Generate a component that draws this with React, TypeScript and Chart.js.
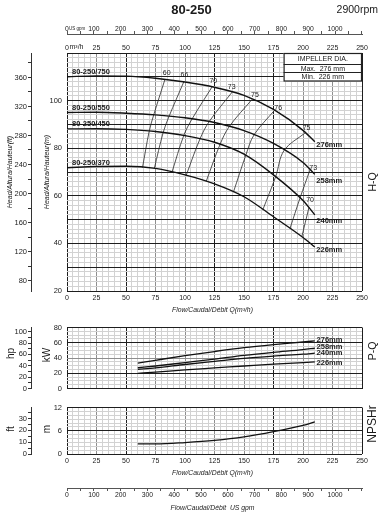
import React, { useEffect, useRef } from 'react';
import { Chart, registerables } from 'chart.js';

Chart.register(...registerables);

const SANS = '"Liberation Sans", Arial, sans-serif';
const INK = '#1a1a1a';

// ---------- tick labels ----------
const flowTicks = [0, 25, 50, 75, 100, 125, 150, 175, 200, 225, 250];
const gpmTicks = [0, 100, 200, 300, 400, 500, 600, 700, 800, 900, 1000];
const headTicks = [20, 40, 60, 80, 100];
const headFtTicks = [80, 120, 160, 200, 240, 280, 320, 360];
const powerTicks = [0, 20, 40, 60, 80];
const hpTicks = [0, 20, 40, 60, 80, 100];
const npshTicks = [0, 6, 12];
const npshFtTicks = [0, 10, 20, 30];

// ---------- H-Q curves ----------
const models = ['80-250/750', '80-250/550', '80-250/450', '80-250/370'];
const diameters = ['276mm', '258mm', '240mm', '226mm'];
const qHead = [0, 25, 50, 75, 100, 125, 150, 175, 200, 210];
const head276 = [110, 110.4, 110.3, 109.4, 107.8, 105.6, 102.2, 96.3, 87.5, 82.7];
const head258 = [95, 95.1, 94.7, 94, 92.8, 90.8, 87.4, 82, 74, 69];
const head240 = [88.1, 88.2, 87.9, 87, 85.3, 82.5, 77.5, 68.8, 58, 52];
const head226 = [71.8, 72.3, 72.4, 71.5, 68.8, 65, 59.6, 51.2, 42.5, 38.5];
const diamLabelQ = 211.3;
const diamLabelH = [81.3, 66.4, 49.4, 37.2];

// ---------- efficiency iso-lines [Q, H] ----------
const eff60 = [[83, 108.9], [73.5, 94.0], [69.7, 87.2], [64, 71.9]];
const eff66 = [[99, 107.9], [86.5, 93.4], [81.5, 86.6], [74, 71.5]];
const eff70 = [[123, 105.8], [106, 92.3], [99, 85.4], [89, 70.0]];
const eff73 = [[140, 103.6], [120.5, 91.2], [112.7, 83.9], [101, 68.6]];
const eff75a = [[157, 100.6], [137.5, 89.1], [129.7, 81.6], [118, 66.1]];
const eff76 = [[176, 96.0], [158.5, 85.6], [151.5, 77.0], [141, 61.5]];
const eff75b = [[202, 86.5], [184, 79.1], [176.8, 68.0], [166, 54.2]];
const eff73b = [[206, 71.0], [197.5, 59.1], [189, 46.3]];
const eff70b = [[205, 55.0], [199, 42.8]];
const effNames = ['60', '66', '70', '73', '75', '76', '75', '73', '70'];
const effLabelQ = [84.5, 99.5, 124, 139.6, 159.3, 179, 203, 208.7, 206];
const effLabelH = [111.5, 110.6, 108, 105.8, 102.4, 96.8, 88.4, 71.6, 58.2];

// ---------- P-Q curves ----------
const qPower = [60, 75, 100, 125, 150, 175, 200, 210];
const power276 = [33.3, 37, 43, 48.5, 53.5, 57.5, 61, 62.5];
const power258 = [27.2, 29.5, 34, 38.5, 43.5, 47.5, 51, 52.8];
const power240 = [25.2, 27, 31.5, 35.5, 39.5, 42.5, 45, 46.3];
const power226 = [19.9, 21.5, 24.5, 27, 29.5, 32, 34, 35];
const powerLabelQ = 211.5;
const powerLabelKw = [63.7, 54.4, 46.3, 34.1];

// ---------- NPSHr ----------
const qNpsh = [60, 75, 100, 125, 150, 175, 200, 210];
const npshr = [2.6, 2.6, 2.95, 3.5, 4.4, 5.75, 7.4, 8.3];

// unit conversions
const M_TO_FT = 3.28084;
const M3H_TO_GPM = 4.40287;
const KW_TO_HP = 1 / 0.7457;

const MINOR = '#d2d2d2';
const MID = '#8e8e8e';
const DARK = '#1e1e1e';

function range(a: number, b: number, s: number) {
  const r: number[] = [];
  for (let v = a; v <= b + 1e-9; v += s) r.push(Math.round(v * 1000) / 1000);
  return r;
}
const setTicks = (vals: number[]) => (scale: any) => {
  scale.ticks = vals.map((v) => ({ value: v }));
};
const fixW = (w: number) => (s: any) => {
  s.width = w;
};
const fixH = (h: number) => (s: any) => {
  s.height = h;
};
const xGridColor = (dark: number[]) => (c: any) => {
  const v = c.tick ? c.tick.value : 0;
  if (dark.includes(v)) return DARK;
  if (v % 25 === 0) return MID;
  return MINOR;
};
const tickFont = (size: number) => ({ family: SANS, size });
const pts = (xs: number[], ys: number[]) => xs.map((x, i) => ({ x, y: ys[i] }));
const pairPts = (p: number[][]) => p.map(([x, y]) => ({ x, y }));

const line = (data: any[], width: number, color = '#111', mono = true) => ({
  data,
  showLine: true,
  borderColor: color,
  borderWidth: width,
  pointRadius: 0,
  pointHoverRadius: 0,
  fill: false,
  tension: mono ? 0.4 : 0.35,
  cubicInterpolationMode: mono ? 'monotone' : 'default',
  xAxisID: 'x',
  yAxisID: 'y',
});

function txt(ctx: CanvasRenderingContext2D, s: string, x: number, y: number, font: string, align: CanvasTextAlign = 'center') {
  ctx.font = font;
  ctx.fillStyle = INK;
  ctx.textAlign = align;
  ctx.textBaseline = 'middle';
  ctx.fillText(s, x, y);
}
function vtxt(ctx: CanvasRenderingContext2D, s: string, x: number, y: number, font: string) {
  ctx.save();
  ctx.translate(x, y);
  ctx.rotate(-Math.PI / 2);
  txt(ctx, s, 0, 0, font);
  ctx.restore();
}

const common = {
  animation: false as const,
  responsive: false,
  devicePixelRatio: 1,
  events: [] as any[],
  plugins: { legend: { display: false }, tooltip: { enabled: false }, title: { display: false } },
};

function hqConfig(): any {
  const heads = [head276, head258, head240, head226];
  const effs = [eff60, eff66, eff70, eff73, eff75a, eff76, eff75b, eff73b, eff70b];
  return {
    type: 'scatter',
    data: {
      datasets: [
        ...heads.map((h) => line(pts(qHead, h), 1.4)),
        ...effs.map((e) => line(pairPts(e), 0.8, '#2a2a2a', false)),
      ],
    },
    options: {
      ...common,
      layout: { padding: { left: 0, right: 18, top: 20, bottom: 9 } },
      scales: {
        x: {
          type: 'linear', position: 'bottom', min: 0, max: 250,
          afterBuildTicks: setTicks(range(0, 250, 5)), afterFit: fixH(18),
          grid: { color: xGridColor([0, 50, 125, 175, 250]), lineWidth: 1, drawTicks: false },
          border: { display: false },
          ticks: { autoSkip: false, maxRotation: 0, padding: 3, font: tickFont(7), color: '#222',
            callback: (v: number) => (flowTicks.includes(v) ? String(v) : '') },
        },
        xTop: {
          type: 'linear', position: 'top', min: 0, max: 250, weight: 1,
          afterBuildTicks: setTicks(flowTicks), afterFit: fixH(19),
          grid: { drawOnChartArea: false, drawTicks: false }, border: { display: false },
          ticks: { autoSkip: false, maxRotation: 0, padding: 1, font: tickFont(7), color: '#222',
            callback: (v: number) => String(v) },
        },
        xGpm: {
          type: 'linear', position: 'top', min: 0, max: 250 * M3H_TO_GPM, weight: 2,
          afterBuildTicks: setTicks(range(0, 1100, 50)), afterFit: fixH(14),
          grid: { drawOnChartArea: false, drawTicks: true, tickLength: 3, color: '#555' },
          border: { display: true, color: '#555' },
          ticks: { autoSkip: false, maxRotation: 0, padding: -2, font: tickFont(6.8), color: '#222',
            callback: (v: number) => (gpmTicks.includes(v) ? String(v) : '') },
        },
        y: {
          type: 'linear', position: 'left', min: 20, max: 120, weight: 1,
          afterBuildTicks: setTicks(range(20, 120, 2)), afterFit: fixW(36),
          grid: { color: (c: any) => (c.tick && c.tick.value % 10 === 0 ? DARK : MINOR), drawTicks: false },
          border: { display: false },
          ticks: { autoSkip: false, padding: 5, font: tickFont(7.5), color: '#222',
            callback: (v: number) => (headTicks.includes(v) ? String(v) : '') },
        },
        yFt: {
          type: 'linear', position: 'left', min: 20 * M_TO_FT, max: 120 * M_TO_FT, weight: 2,
          afterBuildTicks: setTicks(range(80, 380, 20)), afterFit: fixW(31),
          grid: { drawOnChartArea: false, tickLength: 3, color: '#333' },
          border: { display: true, color: '#333' },
          ticks: { autoSkip: false, padding: 1, font: tickFont(7.5), color: '#222',
            callback: (v: number) => (headFtTicks.includes(v) ? String(v) : '') },
        },
      },
    },
    plugins: [
      {
        id: 'hqText',
        afterDraw(chart: any) {
          const { ctx, chartArea: a, scales } = chart;
          const X = (q: number) => scales.x.getPixelForValue(q);
          const Y = (h: number) => scales.y.getPixelForValue(h);
          ctx.save();
          txt(ctx, '80-250', 191.5, 10.5, `bold 13px ${SANS}`);
          txt(ctx, '2900rpm', 378, 10.5, `10.5px ${SANS}`, 'right');
          txt(ctx, 'US gpm', a.left + 2, 28.5, `4.5px ${SANS}`, 'left');
          txt(ctx, 'm³/h', a.left + 2.5, 47.5, `7px ${SANS}`, 'left');
          vtxt(ctx, 'Head/Altura/Hauteur(ft)', 10, (a.top + a.bottom) / 2, `italic 7px ${SANS}`);
          vtxt(ctx, 'Head/Altura/Hauteur(m)', 47, (a.top + a.bottom) / 2, `italic 7px ${SANS}`);
          vtxt(ctx, 'H-Q', 373, 182, `10.5px ${SANS}`);
          txt(ctx, 'Flow/Caudal/Débit Q(m³/h)', (a.left + a.right) / 2 - 2, 310, `italic 6.8px ${SANS}`);
          heads.forEach((h, i) => txt(ctx, models[i], X(qHead[0]) + 5, Y(h[0]) - 5, `bold 7.5px ${SANS}`, 'left'));
          diameters.forEach((d, i) => txt(ctx, d, X(diamLabelQ), Y(diamLabelH[i]), `bold 7.5px ${SANS}`, 'left'));
          effNames.forEach((e, i) => txt(ctx, e, X(effLabelQ[i]), Y(effLabelH[i]), `7px ${SANS}`));
          // impeller box
          const bw = 78.4;
          const bx = a.right - bw;
          const by = a.top;
          ctx.fillStyle = '#fff';
          ctx.fillRect(bx, by, bw, 28);
          ctx.strokeStyle = '#222';
          ctx.lineWidth = 1.2;
          ctx.strokeRect(bx + 0.5, by + 0.5, bw - 1, 27.5);
          ctx.beginPath();
          ctx.moveTo(bx, by + 11.5); ctx.lineTo(a.right, by + 11.5);
          ctx.moveTo(bx, by + 19.5); ctx.lineTo(a.right, by + 19.5);
          ctx.stroke();
          txt(ctx, 'IMPELLER DIA.', bx + bw / 2, by + 6, `7px ${SANS}`);
          txt(ctx, 'Max.  276 mm', bx + bw / 2, by + 15.8, `7px ${SANS}`);
          txt(ctx, 'Min.  226 mm', bx + bw / 2, by + 24, `7px ${SANS}`);
          ctx.restore();
        },
      },
    ],
  };
}

function pqConfig(): any {
  const powers = [power276, power258, power240, power226];
  return {
    type: 'scatter',
    data: { datasets: powers.map((p) => line(pts(qPower, p), 1.3)) },
    options: {
      ...common,
      layout: { padding: { left: 0, right: 18, top: 5, bottom: 9 } },
      scales: {
        x: {
          type: 'linear', position: 'bottom', min: 0, max: 250,
          afterBuildTicks: setTicks(range(0, 250, 5)), afterFit: fixH(0),
          grid: { color: xGridColor([0, 50, 175, 250]), drawTicks: false },
          border: { display: false },
          ticks: { display: false },
        },
        y: {
          type: 'linear', position: 'left', min: 0, max: 80, weight: 1,
          afterBuildTicks: setTicks(range(0, 80, 5)), afterFit: fixW(36),
          grid: {
            color: (c: any) => {
              const v = c.tick ? c.tick.value : 0;
              if (v === 0 || v === 20 || v === 60 || v === 80) return DARK;
              if (v === 40) return MID;
              return MINOR;
            },
            drawTicks: false,
          },
          border: { display: false },
          ticks: { autoSkip: false, padding: 5, font: tickFont(7.5), color: '#222',
            callback: (v: number) => (powerTicks.includes(v) ? String(v) : '') },
        },
        yHp: {
          type: 'linear', position: 'left', min: 0, max: 80 * KW_TO_HP, weight: 2,
          afterBuildTicks: setTicks(range(0, 100, 10)), afterFit: fixW(31),
          grid: { drawOnChartArea: false, tickLength: 3, color: '#333' },
          border: { display: true, color: '#333' },
          ticks: { autoSkip: false, padding: 1, font: tickFont(7.5), color: '#222',
            callback: (v: number) => (hpTicks.includes(v) ? String(v) : '') },
        },
      },
    },
    plugins: [
      {
        id: 'pqText',
        afterDraw(chart: any) {
          const { ctx, scales } = chart;
          const X = (q: number) => scales.x.getPixelForValue(q);
          const Y = (k: number) => scales.y.getPixelForValue(k);
          ctx.save();
          vtxt(ctx, 'hp', 11, 35.5, `10px ${SANS}`);
          vtxt(ctx, 'kW', 47, 37, `10px ${SANS}`);
          vtxt(ctx, 'P-Q', 373, 33, `10.5px ${SANS}`);
          diameters.forEach((d, i) => txt(ctx, d, X(powerLabelQ), Y(powerLabelKw[i]), `bold 7.5px ${SANS}`, 'left'));
          ctx.restore();
        },
      },
    ],
  };
}

function npshConfig(): any {
  return {
    type: 'scatter',
    data: { datasets: [line(pts(qNpsh, npshr), 1.3)] },
    options: {
      ...common,
      layout: { padding: { left: 0, right: 18, top: 6, bottom: 0 } },
      scales: {
        x: {
          type: 'linear', position: 'bottom', min: 0, max: 250, weight: 1,
          afterBuildTicks: setTicks(range(0, 250, 5)), afterFit: fixH(34),
          grid: { color: xGridColor([0, 50, 175, 250]), drawTicks: false },
          border: { display: false },
          ticks: { autoSkip: false, maxRotation: 0, padding: 3, font: tickFont(7), color: '#222',
            callback: (v: number) => (flowTicks.includes(v) ? String(v) : '') },
        },
        xGpm: {
          type: 'linear', position: 'bottom', min: 0, max: 250 * M3H_TO_GPM, weight: 2,
          afterBuildTicks: setTicks(range(0, 1100, 50)), afterFit: fixH(27),
          grid: { drawOnChartArea: false, tickLength: 3, color: '#555' },
          border: { display: true, color: '#555' },
          ticks: { autoSkip: false, maxRotation: 0, padding: 0, font: tickFont(6.8), color: '#222',
            callback: (v: number) => (gpmTicks.includes(v) ? String(v) : '') },
        },
        y: {
          type: 'linear', position: 'left', min: 0, max: 12, weight: 1,
          afterBuildTicks: setTicks(range(0, 12, 1)), afterFit: fixW(36),
          grid: {
            color: (c: any) => {
              const v = c.tick ? c.tick.value : 0;
              return v % 6 === 0 ? DARK : MINOR;
            },
            drawTicks: false,
          },
          border: { display: false },
          ticks: { autoSkip: false, padding: 5, font: tickFont(7.5), color: '#222',
            callback: (v: number) => (npshTicks.includes(v) ? String(v) : '') },
        },
        yFt: {
          type: 'linear', position: 'left', min: 0, max: 12 * M_TO_FT, weight: 2,
          afterBuildTicks: setTicks(range(0, 35, 5)), afterFit: fixW(31),
          grid: { drawOnChartArea: false, tickLength: 3, color: '#333' },
          border: { display: true, color: '#333' },
          ticks: { autoSkip: false, padding: 1, font: tickFont(7.5), color: '#222',
            callback: (v: number) => (npshFtTicks.includes(v) ? String(v) : '') },
        },
      },
    },
    plugins: [
      {
        id: 'npshText',
        afterDraw(chart: any) {
          const { ctx, chartArea: a } = chart;
          ctx.save();
          vtxt(ctx, 'ft', 11, 31, `10px ${SANS}`);
          vtxt(ctx, 'm', 47, 31, `10px ${SANS}`);
          vtxt(ctx, 'NPSHr', 373, 26, `12px ${SANS}`);
          txt(ctx, 'Flow/Caudal/Débit Q(m³/h)', (a.left + a.right) / 2 - 2, 74.7, `italic 6.8px ${SANS}`);
          txt(ctx, 'Flow/Caudal/Débit  US gpm', (a.left + a.right) / 2 - 2, 109.7, `italic 6.8px ${SANS}`);
          ctx.restore();
        },
      },
    ],
  };
}

export default function App() {
  const c1 = useRef<HTMLCanvasElement>(null);
  const c2 = useRef<HTMLCanvasElement>(null);
  const c3 = useRef<HTMLCanvasElement>(null);

  useEffect(() => {
    const charts = [
      new Chart(c1.current as HTMLCanvasElement, hqConfig()),
      new Chart(c2.current as HTMLCanvasElement, pqConfig()),
      new Chart(c3.current as HTMLCanvasElement, npshConfig()),
    ];
    return () => charts.forEach((c) => c.destroy());
  }, []);

  return (
    <div style={{ position: 'absolute', left: 0, top: 0, width: 380, height: 515, background: '#fff' }}>
      <canvas ref={c1} width={380} height={318} style={{ position: 'absolute', left: 0, top: 0, width: 380, height: 318 }} />
      <canvas ref={c2} width={380} height={80} style={{ position: 'absolute', left: 0, top: 318, width: 380, height: 80 }} />
      <canvas ref={c3} width={380} height={117} style={{ position: 'absolute', left: 0, top: 398, width: 380, height: 117 }} />
    </div>
  );
}
